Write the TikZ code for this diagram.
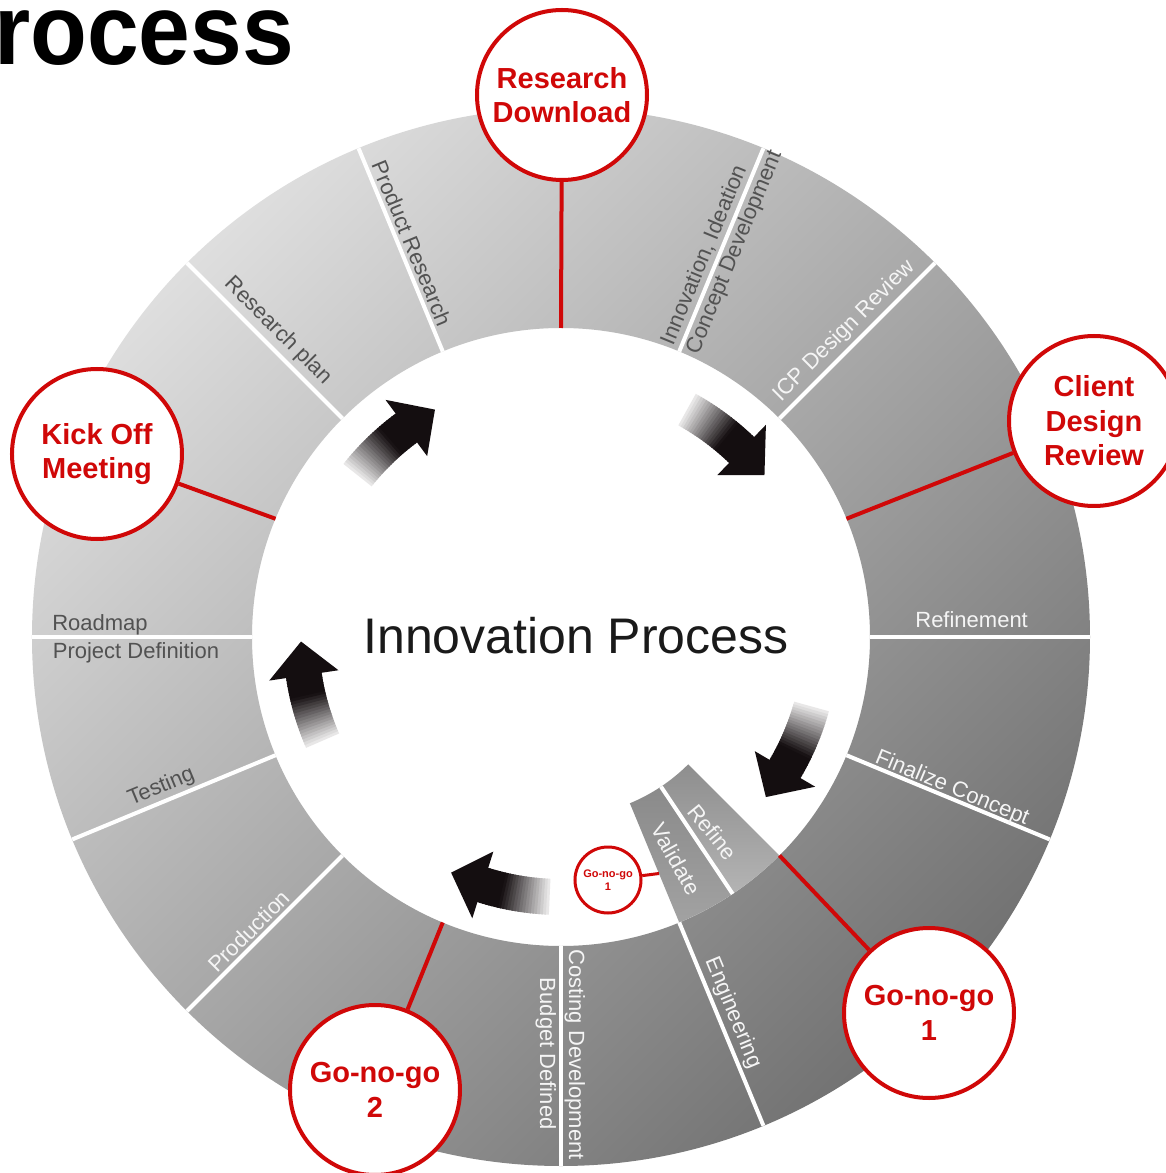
\documentclass[tikz,border=0pt]{standalone}
\usepackage{fontspec}
\setmainfont{Liberation Sans}

\definecolor{mred}{RGB}{208,8,8}
\definecolor{ringlight}{RGB}{222,222,222}
\definecolor{ringdark}{RGB}{114,114,114}
\definecolor{labeldark}{RGB}{82,82,82}
\definecolor{labellight}{RGB}{245,245,245}
\definecolor{arrowblack}{RGB}{20,14,16}
\definecolor{centertext}{RGB}{26,26,26}

\tikzset{
  milestone/.style={circle, draw=mred, line width=4pt, fill=white, minimum size=170pt,
    inner sep=0pt, align=center, text=mred, font=\bfseries\fontsize{29}{34.5}\selectfont},
  smallmilestone/.style={circle, draw=mred, line width=3pt, fill=white, minimum size=66pt,
    inner sep=0pt, align=center, text=mred, font=\bfseries\fontsize{11}{13}\selectfont},
  sepline/.style={white, line width=4pt},
  redline/.style={mred, line width=4pt},
  darklabel/.style={text=labeldark, font=\fontsize{22}{26}\selectfont, inner sep=0pt},
  lightlabel/.style={text=labellight, font=\fontsize{22}{26}\selectfont, inner sep=0pt},
}

% curved arrow, fading tail, #1 = tail angle
\newcommand{\flowarrow}[1]{%
  \foreach \k in {0,...,23}{%
    \pgfmathsetmacro{\sa}{#1-\k*0.625}%
    \pgfmathsetmacro{\ea}{#1-(\k+1)*0.625-0.25}%
    \pgfmathtruncatemacro{\tint}{min(100,10+5.5*\k)}%
    \fill[arrowblack!\tint!white] (\sa:242) arc[start angle=\sa, end angle=\ea, radius=242]
      -- (\ea:278) arc[start angle=\ea, end angle=\sa, radius=278] -- cycle;
  }%
  \fill[arrowblack] ({#1-15}:225) -- ({#1-15}:295) -- ({#1-22.5}:260) -- cycle;
}

\begin{document}
\begin{tikzpicture}[x=1pt, y=1pt]

	\useasboundingbox (-561,-536) rectangle (604,637);
	\fill[white] (-561,-536) rectangle (604,637);

	% Title
	\node[anchor=base west, inner sep=0pt, xscale=0.93, font=\bfseries\fontsize{100}{100}\selectfont] (title) at (-567,572) {rocess};

	% Ring
	\shade[top color=ringlight, bottom color=ringdark, shading angle=45, even odd rule]
		(0,0) circle[radius=529] (0,0) circle[radius=309];

	% Refine / Validate tabs
	\shade[top color={rgb,255:red,142;green,142;blue,142}, bottom color={rgb,255:red,180;green,180;blue,180}]
		(-45:180) arc[start angle=-45, end angle=-56.25, radius=180] -- (-56.25:309)
		arc[start angle=-56.25, end angle=-45, radius=309] -- cycle;
	\shade[top color={rgb,255:red,138;green,138;blue,138}, bottom color={rgb,255:red,162;green,162;blue,162}]
		(-56.25:180) arc[start angle=-56.25, end angle=-67.5, radius=180] -- (-67.5:309)
		arc[start angle=-67.5, end angle=-56.25, radius=309] -- cycle;
	\draw[sepline] (-56.25:180) -- (-56.25:309);

	% Separators
	\draw[sepline] (0:309) -- (0:529);
	\draw[sepline] (45:309) -- (45:529);
	\draw[sepline] (67.5:309) -- (67.5:529);
	\draw[sepline] (112.5:309) -- (112.5:529);
	\draw[sepline] (135:309) -- (135:529);
	\draw[sepline] (180:309) -- (180:529);
	\draw[sepline] (202.5:309) -- (202.5:529);
	\draw[sepline] (225:309) -- (225:529);
	\draw[sepline] (270:309) -- (270:529);
	\draw[sepline] (292.5:309) -- (292.5:529);
	\draw[sepline] (337.5:309) -- (337.5:529);

	% Ring labels
	\node[darklabel, rotate=-67.5] (prodres) at (110.7:421) {Product Research};
	\node[darklabel, rotate=-45] (resplan) at (132.8:417) {Research plan};
	\node[darklabel, rotate=67.5] (innov) at (69.5:408) {Innovation, Ideation};
	\node[darklabel, rotate=67.5] (concept) at (65.7:422) {Concept Development};
	\node[lightlabel, rotate=45] (icp) at (47.2:417) {ICP Design Review};
	\node[lightlabel] (refinement) at (2.4:411) {Refinement};
	\node[lightlabel, rotate=-22.5] (finalize) at (-21.2:419.5) {Finalize Concept};
	\node[lightlabel, rotate=-51] (refine) at (-52.1:247) {Refine};
	\node[lightlabel, rotate=-61] (validate) at (-62.6:250) {Validate};
	\node[lightlabel, rotate=-67.5] (engineering) at (-65.4:413.5) {Engineering};
	\node[lightlabel, rotate=-90] (costing) at (-88.1:418) {Costing Development};
	\node[lightlabel, rotate=-90] (budget) at (-92.1:417) {Budget Defined};
	\node[lightlabel, rotate=45] (production) at (-136.7:429) {Production};
	\node[darklabel, rotate=22.5] (testing) at (-159.4:427) {Testing};
	\node[darklabel] (roadmap) at (178.45:461.2) {Roadmap};
	\node[darklabel] (projdef) at (182.1:425.3) {Project Definition};

	% Milestones
	\coordinate (rdfoot) at (90:309);
	\coordinate (crfoot) at (22.5:309);
	\coordinate (kofoot) at (157.5:309);
	\coordinate (g1foot) at (-45:309);
	\coordinate (g2foot) at (-112.5:309);
	\coordinate (valedge) at (-67.5:256);

	\node[milestone] (resdown) at (1,542) {Research\\Download};
	\node[milestone] (clientrev) at (533,216) {Client\\Design\\Review};
	\node[milestone] (kickoff) at (-464,183) {Kick Off\\Meeting};
	\node[milestone] (gonogo1) at (368,-376) {Go-no-go\\1};
	\node[milestone] (gonogo2) at (-186,-453) {Go-no-go\\2};
	\node[smallmilestone] (gonogosmall) at (47,-243) {Go-no-go\\1};

	\draw[redline] (rdfoot) -- (resdown);
	\draw[redline] (crfoot) -- (clientrev);
	\draw[redline] (kofoot) -- (kickoff);
	\draw[redline] (g1foot) -- (gonogo1);
	\draw[redline] (g2foot) -- (gonogo2);
	\draw[redline, line width=3pt] (gonogosmall) -- (valedge);

	% Flow arrows
	\flowarrow{141.5}
	\flowarrow{61}
	\flowarrow{-15.5}
	\flowarrow{-92.5}
	\flowarrow{203.5}

	% Centre
	\node[font=\fontsize{50}{60}\selectfont, text=centertext] (centre) at (15,1) {Innovation Process};

\end{tikzpicture}
\end{document}
